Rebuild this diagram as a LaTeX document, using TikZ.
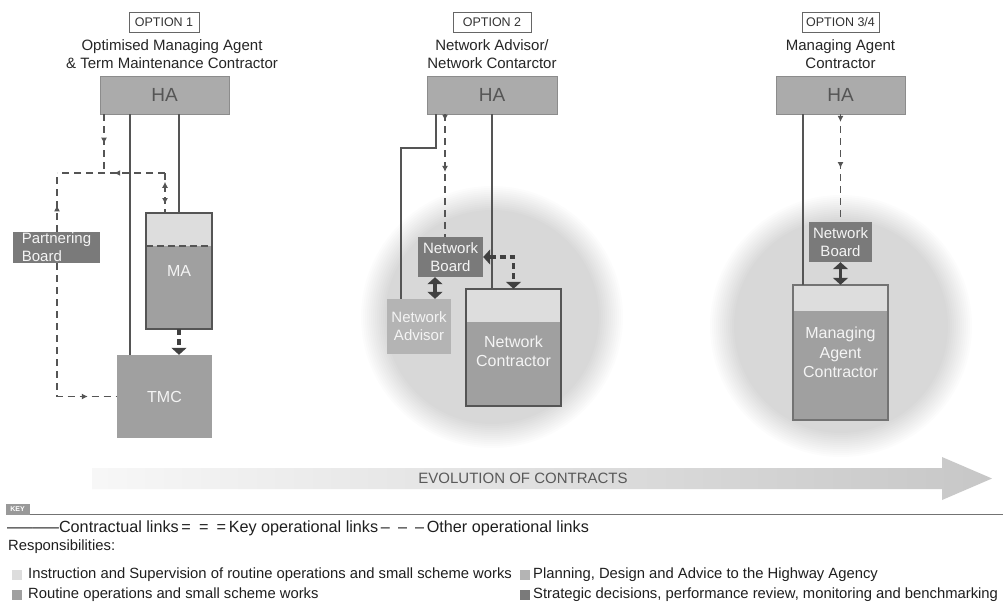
\documentclass[tikz,border=0pt]{standalone}
\usepackage{fontspec}
\setmainfont{Liberation Sans}
\usetikzlibrary{arrows.meta,decorations.markings,calc}
\definecolor{haFill}{HTML}{ABABAB}
\definecolor{haText}{HTML}{555555}
\definecolor{darkFill}{HTML}{7A7A7A}
\definecolor{midFill}{HTML}{A0A0A0}
\definecolor{lightFill}{HTML}{DDDDDD}
\definecolor{advFill}{HTML}{B4B4B4}
\definecolor{lineC}{HTML}{555555}
\definecolor{keyC}{HTML}{404040}
\definecolor{boxText}{HTML}{F4F4F4}
\begin{document}
\begin{tikzpicture}[x=1pt,y=-1pt,
  optbox/.style={draw=black!60, line width=0.8pt, fill=white, inner sep=0pt,
    minimum height=20pt, font=\fontsize{12.5}{14}\selectfont, text=black!80},
  titlet/.style={align=center, font=\fontsize{15}{18}\selectfont, text=black!85},
  habox/.style={draw=black!45, line width=0.8pt, fill=haFill, inner sep=0pt,
    minimum height=38pt, font=\fontsize{19}{21}\selectfont, text=haText},
  darkbox/.style={fill=darkFill, inner sep=0pt, align=center,
    font=\fontsize{15}{18}\selectfont, text=boxText},
  midbox/.style={fill=midFill, inner sep=0pt, align=center,
    font=\fontsize{16}{19.5}\selectfont, text=boxText},
  frame/.style={draw=lineC, line width=1.5pt},
  contract/.style={draw=lineC, line width=1.2pt},
  other/.style={draw=lineC, line width=1.3pt, dash pattern=on 7pt off 5pt},
  arrat/.style={postaction={decorate, decoration={markings,
    mark=at position #1 with {\arrow{Latex[length=6pt,width=6pt]}}}}},
  arrback/.style={postaction={decorate, decoration={markings,
    mark=at position #1 with {\arrowreversed{Latex[length=6pt,width=6pt]}}}}},
  keyl/.style={draw=keyC, line width=3.2pt, dash pattern=on 6pt off 4pt},
  keysolid/.style={draw=keyC, line width=3.2pt},
  keytip/.tip={Triangle[width=15pt,length=7pt]},
  legend/.style={anchor=west, inner sep=0pt, font=\fontsize{14.8}{17}\selectfont, text=black!88},
  swatch/.style={inner sep=0pt, minimum width=10pt, minimum height=10pt}
]
\clip (0,0) rectangle (1003,606);
\fill[white] (0,0) rectangle (1003,606);

% background glows
\foreach \r in {131,129,...,107} {
  \fill[black, opacity=0.012] (492,317) circle[radius=\r pt];
  \fill[black, opacity=0.012] (841,326) circle[radius=\r pt];
}

% ===== OPTION 1 =====
\node[optbox, minimum width=70pt] (opt1) at (164,22) {OPTION 1};
\node[titlet] (title1) at (172,54.5) {Optimised Managing Agent\\\& Term Maintenance Contractor};
\node[habox, minimum width=129pt] (HA1) at (164.5,95) {HA};
\node[darkbox, minimum width=87pt, minimum height=31pt, align=left] (PB) at (56.5,247.5) {Partnering\\Board};
\node[midbox, minimum width=66pt, minimum height=116pt] (MA) at (179,271) {MA};
\fill[lightFill] (MA.north west) rectangle ([yshift=-33pt]MA.north east);
\draw[lineC, line width=1.5pt, dash pattern=on 7pt off 4pt] ([yshift=-33pt]MA.north west) -- ([yshift=-33pt]MA.north east);
\draw[frame] (MA.north west) rectangle (MA.south east);
\node[midbox, minimum width=95pt, minimum height=83pt] (TMC) at (164.5,396.5) {TMC};

\coordinate (j1) at (104,173);
\coordinate (j2) at (165,173);
\coordinate (j3) at (57,173);
\draw[contract] (130,0 |- HA1.south) -- (130,0 |- TMC.north);
\draw[contract] (HA1.south -| MA.north) -- (MA.north);
\draw[other, arrat=0.5] (104,0 |- HA1.south) -- (j1);
\draw[other, arrat=0.47] (j2) -- (j3);
\draw[other, arrat=0.45] (PB.north -| j3) -- (j3);
\draw[other, arrback=0.22, arrat=0.78] (j2) -- (165,0 |- MA.north);
\draw[other, arrat=0.85] (PB.south -| j3) |- (TMC.west);
\draw[keyl, -{keytip}] (MA.south) -- (TMC.north -| MA.south);

% ===== OPTION 2 =====
\node[optbox, minimum width=78pt] (opt2) at (492,22) {OPTION 2};
\node[titlet] (title2) at (492,54.5) {Network Advisor/\\Network Contarctor};
\node[habox, minimum width=130pt] (HA2) at (492,95) {HA};
\node[darkbox, minimum width=65pt, minimum height=40pt] (NB2) at (450.5,257) {Network\\Board};
\node[darkbox, fill=advFill, minimum width=64pt, minimum height=55pt] (NA) at (419,326.5) {Network\\Advisor};
\node[midbox, minimum width=95pt, minimum height=117pt] (NC) at (513.5,347.5) {\\Network\\Contractor};
\fill[lightFill] (NC.north west) rectangle ([yshift=-33pt]NC.north east);
\draw[frame] (NC.north west) rectangle (NC.south east);

\coordinate (k2) at (401,148);
\draw[contract] (436,0 |- HA2.south) -- (436,148) -- (k2) -- (k2 |- NA.north);
\draw[contract] (HA2.south) -- (HA2.south |- NC.north);
\draw[other, arrat=0.05, arrat=0.47] (445,0 |- HA2.south) -- (445,0 |- NB2.north);
\draw[keysolid, {keytip}-{keytip}] (435,0 |- NB2.south) -- (435,0 |- NA.north);
\draw[keyl, {keytip}-{keytip}] (NB2.east) -| (NC.north);

% ===== OPTION 3/4 =====
\node[optbox, minimum width=77pt] (opt3) at (840.5,22) {OPTION 3/4};
\node[titlet] (title3) at (840.5,54.5) {Managing Agent\\Contractor};
\node[habox, minimum width=129pt] (HA3) at (840.5,95) {HA};
\node[darkbox, minimum width=63pt, minimum height=40pt] (NB3) at (840.5,242) {Network\\Board};
\node[midbox, minimum width=95pt, minimum height=135pt] (MAC) at (840.5,352.5) {Managing\\Agent\\Contractor};
\fill[lightFill] (MAC.north west) rectangle ([yshift=-26pt]MAC.north east);
\draw[frame, draw=black!55] (MAC.north west) rectangle (MAC.south east);

\draw[contract] (803,0 |- HA3.south) -- (803,0 |- MAC.north);
\draw[other, arrat=0.07, arrat=0.5] (HA3.south) -- (NB3.north);
\draw[keysolid, {keytip}-{keytip}] (NB3.south) -- (MAC.north);

% ===== Evolution arrow =====
\shade[left color=black!3, right color=black!22]
  (92,468) -- (942,468) -- (942,457) -- (992,478.5) -- (942,500) -- (942,489) -- (92,489) -- cycle;
\node[font=\fontsize{15}{17}\selectfont, text=black!65] (evo) at (523,478.5) {EVOLUTION OF CONTRACTS};

% ===== Key =====
\node[fill=black!40, text=white, font=\fontsize{7}{8}\selectfont\bfseries, inner sep=1.5pt, minimum width=24pt, minimum height=11pt] (key) at (17.5,509) {KEY};
\draw[black!55, line width=0.8pt] (key.south east) -- (1003,0 |- key.south east);
\node[legend, font=\fontsize{16.2}{18}\selectfont] (leg1) at (7,528) {\scalebox{1.6}[1]{——}Contractual links\,=\enspace=\enspace=\,Key operational links\,–\enspace–\enspace–\,Other operational links};
\node[legend] (resp) at (8,547) {Responsibilities:};
\node[swatch, fill=lightFill] (s1) at (17,575) {};
\node[legend] (t1) at (28,575) {Instruction and Supervision of routine operations and small scheme works};
\node[swatch, fill=midFill] (s2) at (17,595) {};
\node[legend] (t2) at (28,595) {Routine operations and small scheme works};
\node[swatch, fill=advFill] (s3) at (525,575) {};
\node[legend] (t3) at (533,575) {Planning, Design and Advice to the Highway Agency};
\node[swatch, fill=darkFill] (s4) at (525,595) {};
\node[legend] (t4) at (533,595) {Strategic decisions, performance review, monitoring and benchmarking};
\end{tikzpicture}
\end{document}
